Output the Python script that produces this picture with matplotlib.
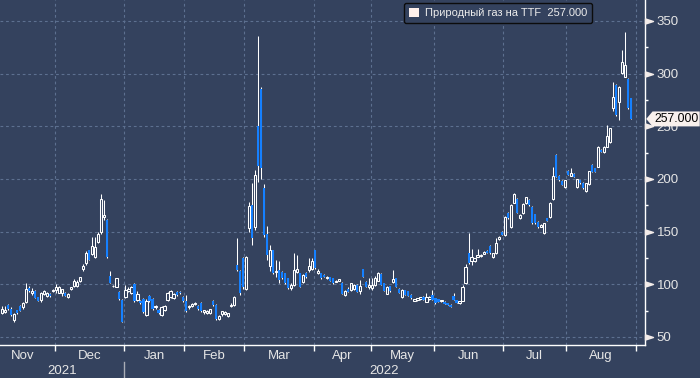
import numpy as np
import matplotlib
matplotlib.use('Agg')
import matplotlib.pyplot as plt
import matplotlib.transforms as mtrans
from matplotlib.path import Path
from matplotlib.patches import Patch

# daily candles, Dutch TTF natural gas, Nov 2021 - Aug 2022 (EUR/MWh)
opens = [73, 74, 80, 77, 66, 75.6, 79, 78.8, 83.5, 96.8, 91.4, 94, 87.6, 85, 91, 88.9, 90.8, 94,
         94.6, 92, 91.4, 92, 88.3, 95.2, 98.4, 98.4, 103.5, 114.2, 120.5, 132.6, 129, 126, 140.5, 150, 163.6, 161, 108, 98, 97.8, 93, 85,
         88, 94, 92, 100, 85, 84, 86, 71, 89, 86, 78, 76, 71, 76, 85, 88, 87, 93, 93, 88,
         84, 78, 79, 81, 79, 82, 73.5, 73, 73, 84, 80, 67, 71.5, 72, 70, 79, 80, 118, 113, 125,
         96, 153, 175, 154, 250, 285, 191, 147.4, 117, 132.6, 111.5, 113.6, 112, 110.5, 105.7, 96.2, 99.4, 112, 110.5, 102.6, 111, 113.6, 114.3,
         132.6, 111, 110.5, 109, 105.7, 106.7, 105.7, 102.6, 103.5, 101.6, 89.9, 96, 94.7, 96, 99.4, 94, 114.3, 102.6, 97.2,
         96.2, 99, 103.5, 109.8, 101, 90.9, 98, 102, 105.7, 96, 87.7, 94.7, 93.7, 90, 84.5, 85, 85.8, 88.4, 83.3, 85.8, 90,
         86.7, 85.8, 84, 83.6, 82, 80.4, 89, 85.2, 82, 84.5, 101, 130, 122, 122.5, 126.3, 127, 129, 132, 136.4, 126.3, 129.5, 142.8, 150,
         146.9, 168, 154.2, 177.6, 180.7, 162.7, 168, 176.9, 180, 173.7, 166.6, 159.5, 154.8, 149, 162.6, 163.6, 180.7, 222.8, 202.8, 198.4, 192.1,
         207.9, 203, 205, 192.1, 199, 196.5, 188.9, 195.2, 213.3, 210, 211.7, 227.5, 225.9, 230.6, 235.4, 267, 289.2, 273.4, 300.3, 297.1, 294.6, 276.5]
highs = [79, 79, 81, 78, 73, 76, 80, 83, 101.5, 98, 96.2, 95, 88, 93, 95, 93, 92, 96,
         100.3, 98, 95.5, 92.5, 91.4, 97.5, 104.7, 104, 107, 119.3, 132, 133, 145, 145, 150, 186, 180, 162, 113, 99, 106, 94, 86,
         99, 97, 98, 101, 94, 85, 87, 86, 90, 87, 80, 77, 79, 80, 93, 95, 92, 94, 94, 89,
         90, 80, 82, 83, 80, 83, 76, 76, 77, 85, 81, 71, 75, 74.5, 73, 82.5, 89, 144, 114, 126,
         127, 178, 196, 208.5, 336, 287, 195, 155, 137, 133, 123, 122, 113, 111, 106, 100.9, 130, 128, 111, 109.5, 112, 124.7, 124.7,
         133, 114.3, 111, 110, 107.5, 107, 106, 104, 105.5, 102, 94.5, 97, 101.5, 100, 100, 104, 115, 103, 106,
         106, 108, 112, 110.5, 101.5, 98.5, 98.5, 114, 106, 96.5, 95.5, 95, 94, 90.5, 86.5, 87, 88, 89, 92, 89, 94.7,
         87, 86, 85.5, 84, 82.5, 81, 91.5, 85.5, 84.5, 99.4, 119, 148.5, 134, 125, 134, 128.5, 131.5, 132.5, 137, 130, 143.7, 146, 151,
         165, 169, 176, 187, 181.5, 166.5, 177.5, 183, 181, 174.5, 167, 160, 157, 158.5, 163, 178, 211, 223.5, 203.5, 199, 199.5,
         208.5, 210, 205.5, 200, 199.5, 197, 196.5, 208, 214, 210.5, 231, 228, 231, 251, 248.5, 292.3, 290, 288, 322.4, 339.8, 295.5, 277]
lows = [72, 73, 76, 70, 64.5, 72, 74.7, 77, 82, 93, 89.8, 86.7, 84, 83.5, 90, 88, 88, 93,
        91.4, 91.5, 88.9, 88.9, 86.7, 94.5, 97, 97.5, 102.5, 112.9, 118.3, 123, 128, 125, 139, 148, 161, 125, 101, 97.5, 97, 85.5, 64,
        87, 93, 91, 83, 84, 81, 73, 70, 83, 76, 77, 72, 70, 75, 84, 87, 86, 89, 91, 83,
        74, 77, 78, 80, 76, 74, 72, 72, 72, 79, 66, 66, 70, 71, 69, 78, 79, 113, 90, 96,
        95, 150, 137, 152, 197, 200, 145, 123, 113, 110, 107, 101, 105, 100, 95.5, 94.6, 98, 111, 97, 101.5, 106, 112, 113.5,
        115, 110, 105, 106.5, 105, 103, 100.5, 102, 103, 90.5, 89, 92.5, 94, 95, 92.5, 91, 107, 97.5, 96,
        94.7, 98, 103, 99, 93.5, 90.5, 93, 101, 97, 91.5, 87, 89.5, 88.5, 86.5, 84, 84.5, 85, 85, 83, 85.5, 85,
        81.5, 83.4, 83.5, 81, 80, 78, 85, 82.5, 81.5, 84, 100, 119.5, 118.4, 121, 125.5, 126, 128.5, 129.5, 129, 125, 129, 142, 146.5,
        146, 162, 153.5, 177, 167.5, 162, 167, 176, 174.5, 157.5, 157.5, 153.5, 154, 147.5, 160, 163, 180, 202, 198.5, 194, 191.5,
        203.5, 202.5, 201.5, 191.5, 195.5, 190.5, 188, 194.5, 206.5, 206.5, 211, 225.5, 225, 230, 234.5, 265, 260, 256, 299.5, 296.5, 266.5, 256.5]
closes = [77, 76, 77, 71, 72, 72.5, 75, 82.6, 95.2, 93.7, 93.6, 87, 84.5, 92, 94, 92, 88.9, 95,
          97.1, 97, 95.2, 88.9, 90.5, 97.1, 103.5, 102.6, 106.6, 117.4, 130, 123.1, 136, 135.7, 147.8, 180.7, 165.8, 125.6, 101.5, 98.4, 105.7, 85.7, 64.5,
          95, 96, 97, 84, 91, 82, 74, 84, 84, 77, 79, 73, 78, 79, 92, 94, 91, 90, 91.5, 84,
          75, 79, 81, 82.5, 77, 75, 75.5, 75, 76.5, 80, 67, 70, 74.5, 73.5, 72.5, 80, 88, 113.6, 91.5, 97,
          125.6, 174, 143.6, 204, 212, 210.5, 147, 127.8, 133, 110.5, 112.5, 104.2, 106, 101, 96.2, 99.4, 113.6, 115, 97.8, 108.9, 106.7, 117.4, 122.5,
          115.2, 113, 105.7, 107, 106.7, 103.5, 101, 103.5, 104.8, 90.9, 94, 93, 101, 99, 93, 98.4, 107.3, 97.8, 99.4,
          99.4, 106, 111, 99.4, 94, 97.8, 93.5, 105, 97.2, 92, 94.7, 90, 89, 86.7, 85.8, 86.7, 87.7, 85.2, 87.7, 88.4, 85.2,
          82, 83.6, 85, 81.4, 80.4, 78.2, 85.2, 82.6, 84.2, 97.8, 116.2, 120, 125.6, 124.7, 128, 128, 131, 130, 129.5, 129.5, 139, 145.3, 146.9,
          164.3, 162.7, 175.4, 185.8, 168, 165.9, 176.5, 182.6, 175, 158, 157.9, 154.1, 156.5, 158, 160.4, 177.5, 202.8, 202.2, 199, 194.3, 199,
          203.8, 206, 202, 199.7, 196, 191.1, 195.9, 207.6, 207, 207, 230.6, 225.9, 230.6, 240.8, 248, 278.1, 260.7, 287.6, 311.4, 308.2, 267, 257]

# first candle index of each month (Nov starts before the window)
month_first = [-3, 18, 41, 61, 81, 104, 123, 144, 167, 188, 211]
month_names = ['Nov', 'Dec', 'Jan', 'Feb', 'Mar', 'Apr', 'May', 'Jun', 'Jul', 'Aug']
years = ['2021', '2022']
series_name = 'Природный газ на TTF'

bg = '#34425e'
blue = '#1580ff'
grid_col = '#5d7090'
txt = '#e6e6e6'

plt.rcParams['font.family'] = ['Liberation Sans', 'DejaVu Sans']

o = np.array(opens)
h = np.array(highs)
l = np.array(lows)
c = np.array(closes)
x = np.arange(len(c))
up = c >= o

fig = plt.figure(figsize=(7, 3.78), dpi=100, facecolor=bg)
ax = fig.add_axes([0, 1 - 345/378, 645/700, 345/378])
ax.set_facecolor(bg)

# wicks then bodies
ax.vlines(x, l, h, color='white', lw=0.75, zorder=2)
body = np.maximum(np.abs(c - o), 0.7)
bottom = np.minimum(o, c)
ax.bar(x[up], body[up], bottom=bottom[up], width=0.75, facecolor=bg,
       edgecolor='white', linewidth=0.75, zorder=3)
ax.bar(x[~up], body[~up], bottom=bottom[~up], width=0.72, color=blue,
       linewidth=0, zorder=3)

ax.set_xlim(-0.66, 213.6)
ax.set_ylim(42.4, 369.9)

# x axis: month boundaries as ticks, names centred between them
bounds = np.array(month_first) - 0.5
centers = (bounds[:-1] + bounds[1:]) / 2
ax.set_xticks(bounds[1:])
ax.set_xticklabels([])
ax.set_xticks(centers, minor=True)
ax.set_xticklabels(month_names, minor=True)
ax.tick_params(axis='x', which='major', length=4, width=1, color='white', direction='out')
ax.tick_params(axis='x', which='minor', length=0, pad=3.5, labelsize=9.5, labelcolor=txt)

# y axis on the right
ax.yaxis.tick_right()
ax.set_yticks(np.arange(50, 351, 50))
ax.set_yticks(np.arange(75, 351, 50), minor=True)
ax.tick_params(axis='y', which='major', length=0, pad=8.5, labelsize=9.5, labelcolor=txt)
ax.tick_params(axis='y', which='minor', length=2.5, width=1, color='white', direction='out')

ax.grid(True, which='major', color=grid_col, ls=(0, (2.5, 2.5)), lw=0.8)
ax.set_axisbelow(True)

for s in ['top', 'left']:
    ax.spines[s].set_visible(False)
for s in ['right', 'bottom']:
    ax.spines[s].set_color('white')
    ax.spines[s].set_linewidth(1)

# little triangles at the labelled y ticks
yblend = mtrans.blended_transform_factory(ax.transAxes, ax.transData)
tri = Path([(0, -0.32), (0, 0.32), (1, 0), (0, -0.32)], closed=True)
yt = np.arange(50, 351, 50)
ax.plot(np.ones(len(yt)), yt, transform=yblend, marker=tri, ms=11.5, color='#f2ebe9',
        ls='none', clip_on=False, zorder=5)

# year row
xblend = mtrans.blended_transform_factory(ax.transData, ax.transAxes)
x0, x1 = ax.get_xlim()
jan = bounds[2]
ax.text((x0 + jan) / 2, -0.075, years[0], transform=xblend, ha='center', va='center',
        fontsize=9.5, color=txt)
ax.text((jan + x1) / 2, -0.075, years[1], transform=xblend, ha='center', va='center',
        fontsize=9.5, color=txt)
ax.plot([jan, jan], [-0.048, -0.1], transform=xblend, color='#a9adb6', lw=1, clip_on=False)


# last price flag on the axis
def flag_box(x0, y0, width, height, mutation_size):
    pad = 0.12 * mutation_size
    x0 -= pad
    y0 -= pad
    width += 2 * pad
    height += 2 * pad
    tip = height * 0.42
    verts = [(x0 - tip, y0 + height / 2), (x0, y0), (x0 + width, y0),
             (x0 + width, y0 + height), (x0, y0 + height), (x0 - tip, y0 + height / 2)]
    return Path(verts, closed=True)


last = closes[-1]
flag_tr = mtrans.offset_copy(yblend, fig=fig, x=9, y=0, units='dots')
ax.text(1.0, last, f'{last:.3f}', transform=flag_tr, ha='left', va='center',
        fontsize=8.8, color='black', clip_on=False, zorder=10,
        bbox=dict(boxstyle=flag_box, fc='#f8f0ed', ec='none'))

# legend box
handle = Patch(facecolor='#fff1ec', edgecolor='none')
leg = ax.legend([handle], [f'{series_name}  {last:.3f}'], loc='upper left',
                bbox_to_anchor=(404/645, 1 - 3/345), frameon=True, fancybox=True,
                facecolor=bg, edgecolor='#0c0c0c', framealpha=1, fontsize=8,
                labelcolor='#ececec', handlelength=0.9, handleheight=0.9,
                handletextpad=0.5, borderpad=0.45, borderaxespad=0)
leg.get_frame().set_linewidth(1)

fig.savefig('out.png', dpi=100, facecolor=bg)
